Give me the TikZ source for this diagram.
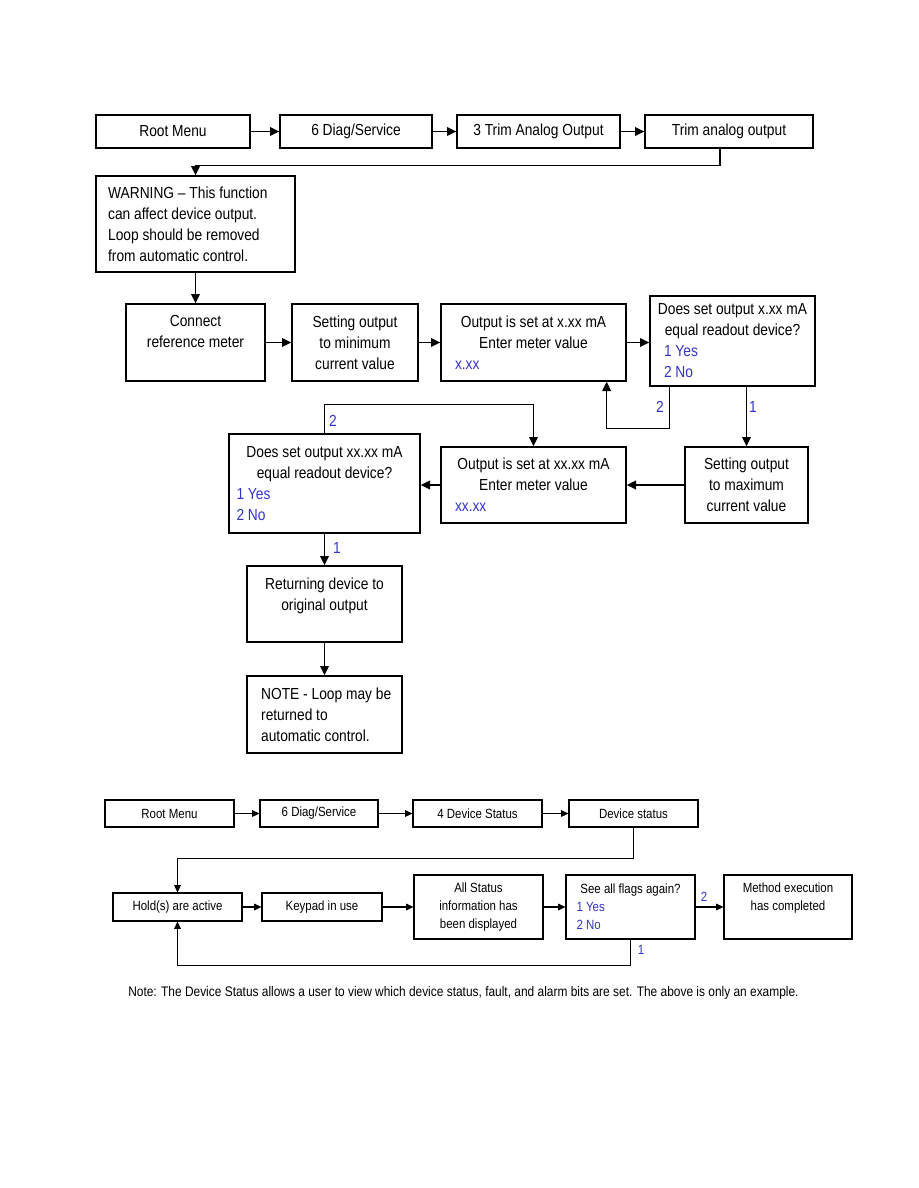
\documentclass[tikz,border=0pt]{standalone}
\usepackage{fontspec}
\setmainfont[FakeStretch=0.86]{Liberation Sans}
\usetikzlibrary{arrows.meta,calc}
\definecolor{optblue}{RGB}{51,51,204}
\newcommand\LineC[1]{\hbox to\hsize{\hss#1\hss}}
\newcommand\LineL[1]{\hbox to\hsize{#1\hss}}
\newcommand\Stack[2]{\vbox{\hsize=#1\relax #2}}
\begin{document}
\begin{tikzpicture}[x=0.75pt,y=-0.75pt,
  sz/.style 2 args={minimum width=#1*0.75pt, minimum height=#2*0.75pt},
  box/.style={draw, line width=1pt, inner sep=0pt, font=\fontsize{12}{15.75}\selectfont},
  cbox/.style={box, align=center},
  sbox/.style={draw, line width=0.8pt, inner sep=0pt, font=\fontsize{10}{13.5}\selectfont},
  csbox/.style={sbox, align=center},
  txt/.style={inner sep=0pt, align=center, font=\fontsize{12}{15.75}\selectfont},
  stxt/.style={inner sep=0pt, align=center, font=\fontsize{10}{13.5}\selectfont},
  arr/.style={line width=1.1pt, -{Triangle[length=7pt,width=6.5pt]}},
  sarr/.style={line width=0.8pt, -{Triangle[length=5.5pt,width=5pt]}},
  num/.style={text=optblue, inner sep=0pt, font=\fontsize{12}{14}\selectfont},
  snum/.style={text=optblue, inner sep=0pt, font=\fontsize{10}{12}\selectfont}]
\fill[white] (0,0) rectangle (918,1188);
\useasboundingbox (0,0) rectangle (918,1188);

% ---------- top chart ----------
\node[cbox, sz={154}{33}] (root) at (173,131.5) {Root Menu};
\node[cbox, sz={152}{33}] (diag) at (356,131.5) {6 Diag/Service};
\node[cbox, sz={163}{33}] (trimA) at (538.5,131.5) {3 Trim Analog Output};
\node[cbox, sz={168}{33}] (trimB) at (729,131.5) {Trim analog output};

\node[box, sz={199}{96}] (warn) at (195.5,224)
  {\Stack{131pt}{\LineL{WARNING -- This function}\LineL{can affect device output.}\LineL{Loop should be removed}\LineL{from automatic control.}}};

\node[box, sz={139}{77}] (conn) at (195.5,342.5) {};
\node[txt, anchor=north] (connT) at ($(conn.north)+(0,12)$) {Connect\\reference meter};
\node[cbox, sz={126}{77}] (setmin) at (355,342.5) {Setting output\\to minimum\\current value};
\node[box, sz={185}{77}] (out1) at (533.5,342.5)
  {\Stack{117.75pt}{\LineC{Output is set at x.xx mA}\LineC{Enter meter value}\LineL{\color{optblue}x.xx}}};
\node[box, sz={165}{90}] (does1) at (732.5,341)
  {\Stack{102.75pt}{\LineC{Does set output x.xx mA}\LineC{equal readout device?}\LineL{\color{optblue}1 Yes}\LineL{\color{optblue}2 No}}};

\node[cbox, sz={123}{76}] (setmax) at (746.5,485) {Setting output\\to maximum\\current value};
\node[box, sz={185}{76}] (out2) at (533.5,485)
  {\Stack{117.75pt}{\LineC{Output is set at xx.xx mA}\LineC{Enter meter value}\LineL{\color{optblue}xx.xx}}};
\node[box, sz={191}{99}] (does2) at (324.5,483.5)
  {\Stack{132pt}{\LineC{Does set output xx.xx mA}\LineC{equal readout device?}\LineL{\color{optblue}1 Yes}\LineL{\color{optblue}2 No}}};

\node[box, sz={155}{76}] (ret) at (324.5,604) {};
\node[txt, anchor=north] (retT) at ($(ret.north)+(0,12)$) {Returning device to\\original output};
\node[box, sz={155}{77}] (note) at (324.5,714.5)
  {\Stack{95pt}{\LineL{NOTE - Loop may be}\LineL{returned to}\LineL{automatic control.}}};

\draw[arr] (root) -- (diag);
\draw[arr] (diag) -- (trimA);
\draw[arr] (trimA) -- (trimB);
\draw[arr] ($(trimB.south)+(-9,0)$) -- ++(0,17) -| (warn.north);
\draw[arr] (warn.south) -- (conn.north);
\draw[arr] (conn) -- (setmin);
\draw[arr] (setmin) -- (out1);
\draw[arr] (out1.east) -- (out1.east -| does1.west);
\draw[arr] ($(does1.south west)+(20,0)$) -- ++(0,42) -| ($(out1.south east)+(-20,0)$);
\draw[arr] (setmax.north |- does1.south) -- (setmax.north);
\draw[arr] (setmax) -- (out2);
\draw[arr] (out2.west) -- (out2.west -| does2.east);
\draw[arr] (does2.north) -- ++(0,-29) -| (out2.north);
\draw[arr] (does2.south) -- (ret.north);
\draw[arr] (ret.south) -- (note.north);

\node[num] (n1) at (660,407) {2};
\node[num] (n2) at (753,407) {1};
\node[num] (n3) at (333,421) {2};
\node[num] (n4) at (337,548) {1};

% ---------- bottom chart ----------
\node[csbox, sz={129}{27}] (broot) at (169.5,813.5) {Root Menu};
\node[csbox, sz={118}{27}] (bdiag) at (319,813.5) {6 Diag/Service};
\node[csbox, sz={129}{27}] (bstat) at (477.5,813.5) {4 Device Status};
\node[csbox, sz={129}{27}] (bdev) at (633.5,813.5) {Device status};

\node[csbox, sz={129}{28}] (hold) at (177.5,907) {Hold(s) are active};
\node[csbox, sz={120}{28}] (keypad) at (322,907) {Keypad in use};
\node[csbox, sz={129}{64}] (allst) at (478.5,907) {All Status\\information has\\been displayed};
\node[sbox, sz={129}{64}] (see) at (630.5,907)
  {\Stack{81pt}{\LineC{See all flags again?}\LineL{\color{optblue}1 Yes}\LineL{\color{optblue}2 No}}};
\node[sbox, sz={128}{64}] (method) at (788,907) {};
\node[stxt, anchor=north] (methodT) at ($(method.north)+(0,8)$) {Method execution\\has completed};

\draw[sarr] (broot) -- (bdiag);
\draw[sarr] (bdiag) -- (bstat);
\draw[sarr] (bstat) -- (bdev);
\draw[sarr] (bdev.south) -- ++(0,31) -| (hold.north);
\draw[sarr] (hold) -- (keypad);
\draw[sarr] (keypad.east) -- (keypad.east -| allst.west);
\draw[sarr] (allst) -- (see);
\draw[sarr] (see) -- (method);
\draw[sarr] (see.south) -- ++(0,26) -| (hold.south);

\node[snum] (m1) at (704,897) {2};
\node[snum] (m2) at (641,950) {1};

\node[stxt, anchor=west, font=\fontsize{10.4}{13}\selectfont] (foot) at (128,993) {Note: The Device Status allows a user to view which device status, fault, and alarm bits are set. The above is only an example.};
\end{tikzpicture}
\end{document}
